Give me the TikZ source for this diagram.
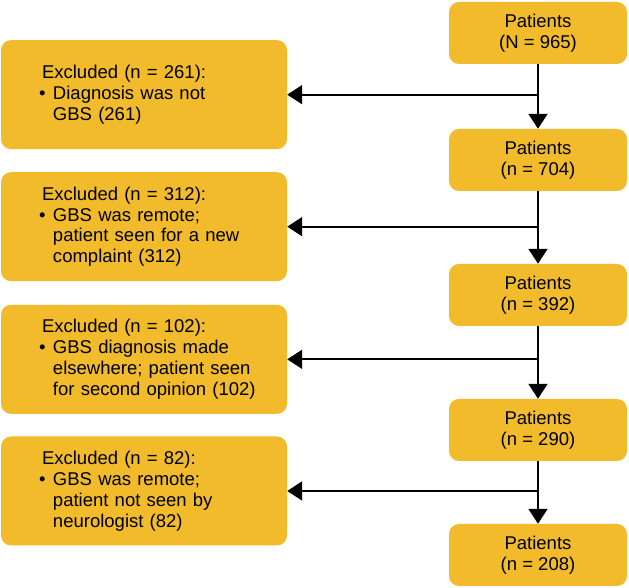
\documentclass[tikz,border=0pt]{standalone}
\usepackage{fontspec}
\setmainfont{Liberation Sans}
\usetikzlibrary{arrows.meta}
\definecolor{boxgold}{RGB}{241,187,43}
\newcommand{\bul}[1]{\hspace*{-0.09cm}\makebox[0.42cm][l]{\textbullet}\mbox{#1}}
\newcommand{\cont}[1]{\hspace*{0.33cm}\mbox{#1}}

\begin{document}
\begin{tikzpicture}[
    patbox/.style={fill=boxgold, rounded corners=0.3cm, minimum width=5.34cm,
      minimum height=1.86cm, align=center},
    exclbox/.style={fill=boxgold, rounded corners=0.3cm, minimum width=8.58cm,
      minimum height=3.27cm, inner xsep=1.23cm, text width=6.12cm, align=left},
    flow/.style={line width=1.7pt, -{Triangle[length=0.45cm,width=0.57cm]}},
    font=\fontsize{15.8pt}{17.8pt}\selectfont
  ]
  \useasboundingbox (0,0) rectangle (18.87,17.64);
  % Patient counts (right column)
  \node[patbox] (p1) at (16.14,16.65) {Patients\\(N = 965)};
  \node[patbox] (p2) at (16.14,12.84) {Patients\\(n = 704)};
  \node[patbox] (p3) at (16.14,8.79) {Patients\\(n = 392)};
  \node[patbox] (p4) at (16.14,4.74) {Patients\\(n = 290)};
  \node[patbox] (p5) at (16.14,0.99) {Patients\\(n = 208)};
  % Exclusions (left column)
  \node[exclbox] (x1) at (4.32,14.8) {Excluded (n = 261):\\
    \bul{Diagnosis was not}\\ \cont{GBS (261)}};
  \node[exclbox] (x2) at (4.32,10.84) {Excluded (n = 312):\\
    \bul{GBS was remote;}\\ \cont{patient seen for a new}\\ \cont{complaint (312)}};
  \node[exclbox] (x3) at (4.32,6.86) {Excluded (n = 102):\\
    \bul{GBS diagnosis made}\\ \cont{elsewhere; patient seen}\\ \cont{for second opinion (102)}};
  \node[exclbox] (x4) at (4.32,2.91) {Excluded (n = 82):\\
    \bul{GBS was remote;}\\ \cont{patient not seen by}\\ \cont{neurologist (82)}};
  % Arrows
  \foreach \a/\b/\x in {p1/p2/x1, p2/p3/x2, p3/p4/x3, p4/p5/x4} {
    \draw[flow] (\a) -- (\b);
    \draw[flow] (\a.south |- \x.east) -- (\x.east);
  }
\end{tikzpicture}
\end{document}
